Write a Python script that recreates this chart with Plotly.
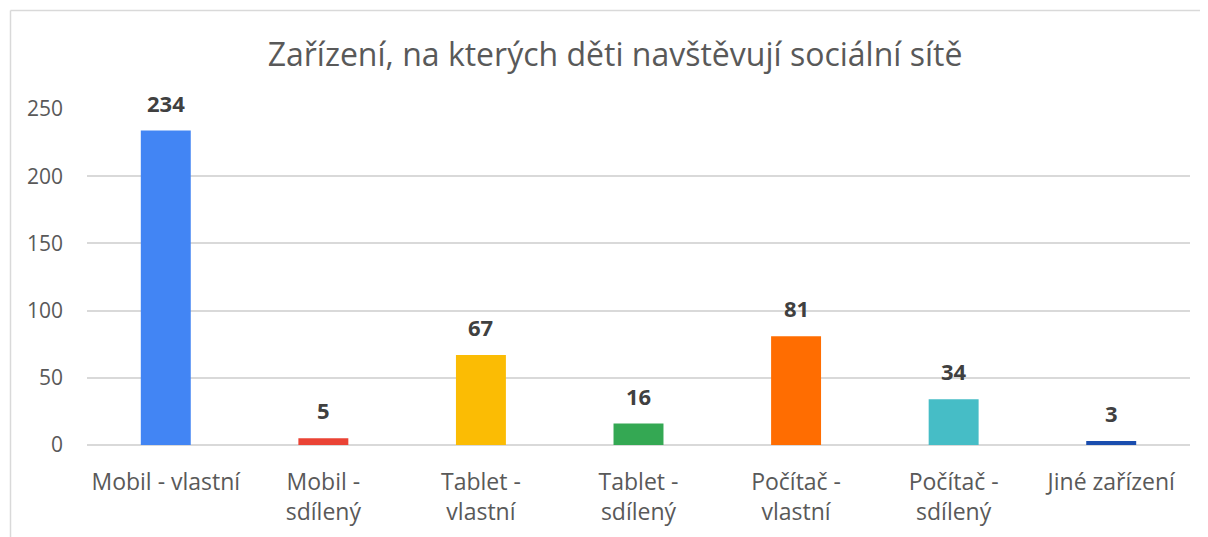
import plotly.graph_objects as go

categories = ["Mobil - vlastní", "Mobil -<br>sdílený", "Tablet -<br>vlastní", "Tablet -<br>sdílený",
              "Počítač -<br>vlastní", "Počítač -<br>sdílený", "Jiné zařízení"]
values = [234, 5, 67, 16, 81, 34, 3]
colors = ["#4285F4", "#EA4335", "#FBBC04", "#34A853", "#FF6D01", "#46BDC6", "#1A4DAE"]
y_ticks = [0, 50, 100, 150, 200, 250]

FONT = "Open Sans"
# page body has an 8px margin, so the figure is sized for the remaining space
W, H = 1200, 529
L, R, T, B = 79, 18, 101, 92
pw, ph = W - L - R, H - T - B

fig = go.Figure(go.Bar(
    x=categories, y=values, marker=dict(color=colors, line=dict(width=0)),
    hoverinfo="skip", showlegend=False,
))

for c, v in zip(categories, values):
    fig.add_annotation(x=c, y=v, text=f"<b>{v}</b>", showarrow=False, yanchor="middle",
                       yshift=28, font=dict(family=FONT, size=22, color="#404040"))

# chart border (left and top edges visible)
bx = (2.5 - L) / pw
by = 1 + (T - 2.5) / ph
fig.add_shape(type="line", xref="paper", yref="paper", x0=bx, x1=bx, y0=-(B + 10) / ph, y1=by,
              line=dict(color="#D9D9D9", width=1.5), layer="below")
fig.add_shape(type="line", xref="paper", yref="paper", x0=bx, x1=(W + 10 - L) / pw, y0=by, y1=by,
              line=dict(color="#D9D9D9", width=1.5), layer="below")

fig.update_layout(
    width=W, height=H,
    margin=dict(l=L, r=R, t=T, b=B, autoexpand=False),
    paper_bgcolor="white", plot_bgcolor="white",
    bargap=0.683,
    title=dict(text="Zařízení, na kterých děti navštěvují sociální sítě",
               x=607 / W, xanchor="center",
               y=1 - 47 / H, yanchor="middle",
               font=dict(family=FONT, size=32, color="#595959")),
    font=dict(family=FONT, color="#595959"),
    xaxis=dict(showgrid=False, showline=False, ticks="", tickfont=dict(size=23, color="#595959"),
               ticklabelstandoff=21, tickangle=0, automargin=False),
    yaxis=dict(range=[0, 250], tickvals=y_ticks, showgrid=True, gridcolor="#D9D9D9", gridwidth=1.5,
               zeroline=True, zerolinecolor="#D9D9D9", zerolinewidth=1.5, automargin=False,
               tickfont=dict(size=21, color="#595959"), ticklabelstandoff=23, showline=False),
)

fig.write_html("out.html", config={"displayModeBar": False})
